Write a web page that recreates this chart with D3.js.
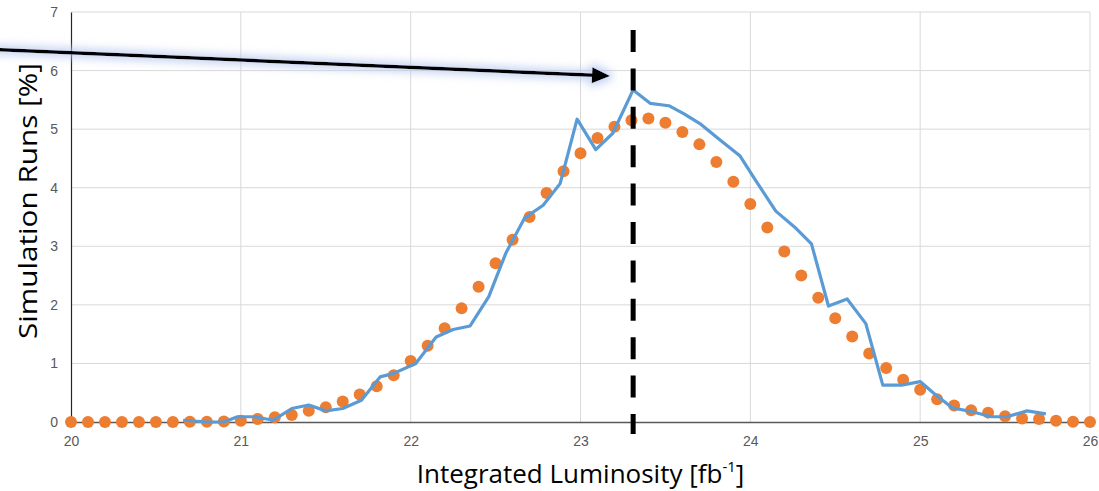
<!DOCTYPE html>
<html>
<head>
<meta charset="utf-8">
<script src="https://cdn.jsdelivr.net/npm/d3@7"></script>
<style>
  body { margin: 0; background: #fff; }
  svg { display: block; font-family: "Open Sans", "Liberation Sans", sans-serif; }
</style>
</head>
<body>
<svg id="chart" width="1099" height="491"></svg>
<script>
// fitted distribution (dots), one value per 0.1 fb-1
var fitX = [20.0, 20.1, 20.2, 20.3, 20.4, 20.5, 20.6, 20.7, 20.8, 20.9,
    21.0, 21.1, 21.2, 21.3, 21.4, 21.5, 21.6, 21.7, 21.8, 21.9,
    22.0, 22.1, 22.2, 22.3, 22.4, 22.5, 22.6, 22.7, 22.8, 22.9,
    23.0, 23.1, 23.2, 23.3, 23.4, 23.5, 23.6, 23.7, 23.8, 23.9,
    24.0, 24.1, 24.2, 24.3, 24.4, 24.5, 24.6, 24.7, 24.8, 24.9,
    25.0, 25.1, 25.2, 25.3, 25.4, 25.5, 25.6, 25.7, 25.8, 25.9, 26.0];
var fitY = [0, 0, 0, 0, 0, 0, 0, 0.005, 0.005, 0.01,
    0.02, 0.05, 0.08, 0.12, 0.19, 0.25, 0.35, 0.47, 0.61, 0.80,
    1.04, 1.30, 1.60, 1.94, 2.31, 2.71, 3.11, 3.50, 3.91, 4.28,
    4.59, 4.85, 5.04, 5.15, 5.18, 5.11, 4.95, 4.74, 4.44, 4.10,
    3.72, 3.32, 2.91, 2.50, 2.12, 1.77, 1.46, 1.17, 0.92, 0.72,
    0.55, 0.39, 0.28, 0.20, 0.16, 0.10, 0.06, 0.05, 0.02, 0.005, 0];

// simulation histogram (line)
var simX = [20.66, 20.8, 20.9, 20.98, 21.08, 21.19, 21.3, 21.4, 21.5, 21.6,
    21.71, 21.82, 21.9, 22.03, 22.15, 22.25, 22.35, 22.46, 22.56, 22.67,
    22.78, 22.88, 22.98, 23.09, 23.19, 23.31, 23.41, 23.52, 23.61, 23.71,
    23.82, 23.94, 24.03, 24.15, 24.26, 24.36, 24.46, 24.57, 24.68, 24.78,
    24.89, 25.0, 25.08, 25.19, 25.3, 25.42, 25.51, 25.63, 25.74];
var simY = [0.03, 0.0, 0.0, 0.09, 0.09, 0.03, 0.23, 0.29, 0.19, 0.23,
    0.37, 0.77, 0.83, 1.0, 1.45, 1.58, 1.64, 2.14, 2.88, 3.48,
    3.70, 4.07, 5.17, 4.65, 4.93, 5.67, 5.44, 5.40, 5.26, 5.08,
    4.82, 4.54, 4.13, 3.60, 3.33, 3.04, 1.98, 2.10, 1.68, 0.63,
    0.63, 0.69, 0.49, 0.24, 0.18, 0.09, 0.09, 0.19, 0.14];

var xTicks = [20, 21, 22, 23, 24, 25, 26];
var yTicks = [0, 1, 2, 3, 4, 5, 6, 7];
var markerX = 23.31;

var svg = d3.select("#chart");

var x = d3.scaleLinear().domain([20, 26]).range([71, 1090]);
var y = d3.scaleLinear().domain([0, 7]).range([422, 12]);

// glow for the arrow
var defs = svg.append("defs");
var glow = defs.append("filter").attr("id", "glow")
    .attr("x", "-10%").attr("y", "-300%").attr("width", "120%").attr("height", "700%");
glow.append("feMorphology").attr("in", "SourceAlpha").attr("operator", "dilate").attr("radius", 3).attr("result", "d");
glow.append("feGaussianBlur").attr("in", "d").attr("stdDeviation", 4).attr("result", "b");
glow.append("feFlood").attr("flood-color", "#b8c8ee").attr("flood-opacity", 0.8);
glow.append("feComposite").attr("in2", "b").attr("operator", "in").attr("result", "g");
var merge = glow.append("feMerge");
merge.append("feMergeNode").attr("in", "g");
merge.append("feMergeNode").attr("in", "SourceGraphic");

// gridlines
svg.append("g").selectAll("line").data(yTicks.slice(1)).enter().append("line")
    .attr("x1", x(20)).attr("x2", x(26))
    .attr("y1", function(d) { return y(d); }).attr("y2", function(d) { return y(d); })
    .attr("stroke", "#d9d9d9").attr("stroke-width", 1);
svg.append("g").selectAll("line").data(xTicks.slice(1)).enter().append("line")
    .attr("x1", function(d) { return x(d); }).attr("x2", function(d) { return x(d); })
    .attr("y1", y(0)).attr("y2", y(7))
    .attr("stroke", "#d9d9d9").attr("stroke-width", 1);

// axes
var xAxis = svg.append("g").attr("transform", "translate(0," + y(0) + ")")
    .call(d3.axisBottom(x).tickValues(xTicks).tickSize(0).tickPadding(14).tickFormat(d3.format("d")));
xAxis.select(".domain").attr("stroke", "#595959").attr("stroke-width", 1.5);
xAxis.selectAll("text").attr("fill", "#595959").attr("font-size", 14);

var yAxis = svg.append("g").attr("transform", "translate(" + x(20) + ",0)")
    .call(d3.axisLeft(y).tickValues(yTicks).tickSize(0).tickPadding(13).tickFormat(d3.format("d")));
yAxis.select(".domain").attr("stroke", "#262626").attr("stroke-width", 1.2);
yAxis.selectAll("text").attr("fill", "#595959").attr("font-size", 14);

// dots
svg.append("g").selectAll("circle").data(fitX).enter().append("circle")
    .attr("cx", function(d) { return x(d); })
    .attr("cy", function(d, i) { return y(fitY[i]); })
    .attr("r", 6)
    .attr("fill", "#ED7D31");

// simulation line
var line = d3.line()
    .x(function(d) { return x(d); })
    .y(function(d, i) { return y(simY[i]); });
svg.append("path").datum(simX)
    .attr("d", line)
    .attr("fill", "none")
    .attr("stroke", "#5B9BD5")
    .attr("stroke-width", 3.2)
    .attr("stroke-linejoin", "round");

// dashed marker
svg.append("line")
    .attr("x1", x(markerX)).attr("x2", x(markerX))
    .attr("y1", 30).attr("y2", 434)
    .attr("stroke", "#000").attr("stroke-width", 5)
    .attr("stroke-dasharray", "22,16.4");

// arrow
var ax0 = -5, ay0 = 49.5, ax1 = 610, ay1 = 76;
var ang = Math.atan2(ay1 - ay0, ax1 - ax0);
var hl = 18, hw = 8;
var bx = ax1 - hl * Math.cos(ang), by = ay1 - hl * Math.sin(ang);
var arrow = svg.append("g").attr("filter", "url(#glow)");
arrow.append("line")
    .attr("x1", ax0).attr("y1", ay0).attr("x2", bx + 2).attr("y2", by)
    .attr("stroke", "#000").attr("stroke-width", 3.5);
arrow.append("path")
    .attr("d", "M" + ax1 + "," + ay1 +
        "L" + (bx - hw * Math.sin(ang)) + "," + (by + hw * Math.cos(ang)) +
        "L" + (bx + hw * Math.sin(ang)) + "," + (by - hw * Math.cos(ang)) + "Z")
    .attr("fill", "#000");

// titles
svg.append("text")
    .attr("transform", "translate(37,201) rotate(-90)")
    .attr("text-anchor", "middle")
    .attr("font-size", 26)
    .attr("textLength", 276)
    .attr("lengthAdjust", "spacingAndGlyphs")
    .attr("fill", "#000")
    .text("Simulation Runs [%]");

var xt = svg.append("text")
    .attr("x", x(23)).attr("y", 483)
    .attr("text-anchor", "middle")
    .attr("font-size", 26)
    .attr("fill", "#000");
xt.append("tspan").text("Integrated Luminosity [fb");
xt.append("tspan").attr("font-size", 15).attr("dy", -11).text("-1");
xt.append("tspan").attr("dy", 11).text("]");
</script>
</body>
</html>
